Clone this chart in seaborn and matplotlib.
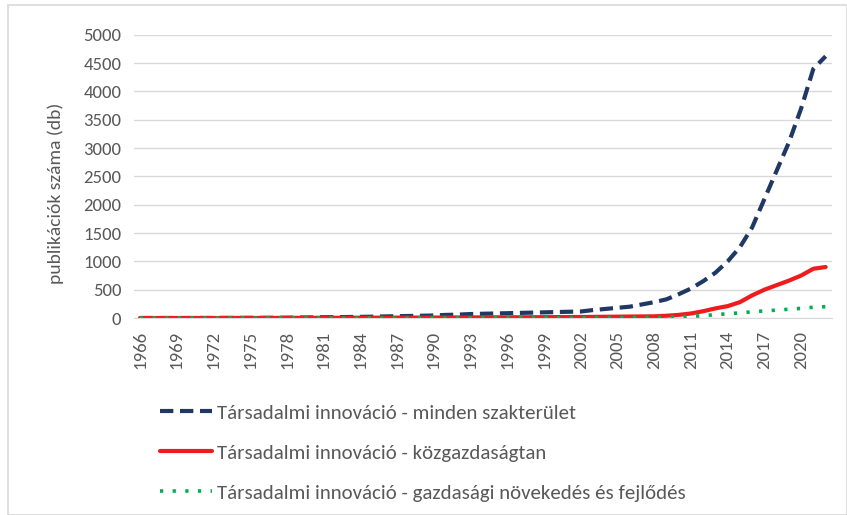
import numpy as np
import pandas as pd
import seaborn as sns
import matplotlib.pyplot as plt
from matplotlib.patches import Rectangle

years = list(range(1966, 2023))

minden = [0, 0, 0, 0, 0, 1, 1, 2, 2, 3, 3, 4, 5, 8, 10, 14, 15, 18, 20, 24,
          28, 32, 36, 40, 45, 55, 60, 70, 75, 80, 85, 90, 95, 100, 105, 110, 115,
          140, 160, 180, 200, 240, 280, 330, 420, 520, 650, 800, 1000, 1250, 1600,
          2100, 2600, 3100, 3700, 4400, 4620]
kozgazdasagtan = [0, 0, 0, 0, 0, 0, 0, 1, 1, 1, 1, 2, 2, 3, 3, 4, 4, 5, 5, 6,
                  6, 7, 7, 8, 8, 9, 10, 10, 11, 12, 12, 13, 14, 15, 16, 17, 18,
                  20, 22, 24, 26, 28, 30, 40, 55, 80, 120, 170, 210, 280, 400,
                  500, 580, 660, 750, 870, 900]
novekedes = [0, 0, 0, 0, 0, 0, 0, 0, 0, 0, 0, 0, 0, 0, 0, 0, 0, 0, 0, 0,
             0, 0, 0, 1, 1, 1, 1, 1, 2, 2, 2, 2, 3, 3, 3, 4, 4,
             5, 6, 7, 8, 10, 12, 15, 20, 30, 40, 60, 75, 90, 110,
             125, 140, 155, 170, 190, 200]

labels = ["Társadalmi innováció - minden szakterület",
          "Társadalmi innováció - közgazdaságtan",
          "Társadalmi innováció - gazdasági növekedés és fejlődés"]
colors = ["#203864", "#EE1C1C", "#00B050"]

df = pd.DataFrame({"év": years, labels[0]: minden,
                   labels[1]: kozgazdasagtan, labels[2]: novekedes})
long = df.melt(id_vars="év", var_name="sorozat", value_name="db")

sns.set_style("white")
plt.rcParams['font.family'] = ['Carlito', 'Liberation Sans', 'DejaVu Sans']

fig = plt.figure(figsize=(8.47, 5.15), dpi=100)
ax = fig.add_axes([0.158, 0.3825, 0.824, 0.55])

styles = [dict(lw=3, dashes=(3.2, 1.6)), dict(lw=3, linestyle="-"),
          dict(lw=2.6, dashes=(0.9, 2.6))]
for lab, col, st in zip(labels, colors, styles):
    sub = long[long["sorozat"] == lab]
    sns.lineplot(data=sub, x="év", y="db", color=col, label=lab, ax=ax, **st)

ax.set_xlim(1965.5, 2022.5)
ax.set_ylim(0, 5000)
ax.set_yticks(range(0, 5001, 500))
ax.set_xticks(range(1966, 2021, 3))
ax.tick_params(axis="x", labelrotation=90, labelsize=13.5, colors="#595959", length=0, pad=9)
ax.tick_params(axis="y", labelsize=13.5, colors="#595959", length=0, pad=9)
ax.grid(axis="y", color="#d9d9d9", lw=1)
for s in ["top", "right", "left"]:
    ax.spines[s].set_visible(False)
ax.spines["bottom"].set_color("#d9d9d9")
ax.set_xlabel("")
ax.set_ylabel("publikációk száma (db)", fontsize=14, color="#595959")
ax.yaxis.set_label_coords(-0.1, 0.44)

handles, labs = ax.get_legend_handles_labels()
ax.get_legend().remove()
fig.legend(handles, labs, loc="upper left", bbox_to_anchor=(0.167, 0.252),
           frameon=False, fontsize=15, labelcolor="#595959", handlelength=2.5,
           handletextpad=0.25, labelspacing=1.08)

fig.patches.append(Rectangle((0.01, 0.0), 0.99, 0.99, transform=fig.transFigure,
                             fill=False, edgecolor="#d9d9d9", lw=1.2))

plt.savefig("out.png", dpi=100)
